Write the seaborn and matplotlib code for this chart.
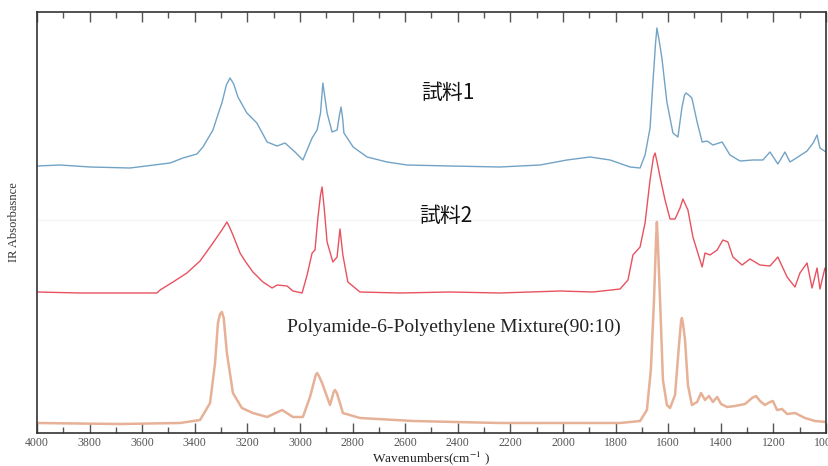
import numpy as np
import pandas as pd
import matplotlib
matplotlib.use("Agg")
import matplotlib.pyplot as plt
from matplotlib.ticker import MultipleLocator
import seaborn as sns

# sample 1 (blue)
wn_s1 = [4000, 3913, 3798, 3646, 3494, 3445, 3392, 3369, 3331, 3310, 3297, 3280, 3266, 3252,
         3236, 3202, 3164, 3125, 3087, 3057, 3019, 2989, 2954, 2935, 2922, 2913, 2905, 2897,
         2878, 2859, 2850, 2844, 2838, 2833, 2798, 2745, 2669, 2593, 2430, 2240, 2087, 1985,
         1897, 1821, 1745, 1707, 1688, 1669, 1658, 1648, 1643, 1636, 1624, 1605, 1582, 1563,
         1548, 1538, 1532, 1522, 1510, 1490, 1471, 1452, 1430, 1395, 1365, 1327, 1278, 1240,
         1213, 1183, 1156, 1137, 1107, 1072, 1049, 1034, 1023, 1000]
ab_s1 = [267, 268, 266, 265, 270, 275, 279, 286, 303, 320, 330, 348, 355, 349,
         336, 320, 310, 291, 287, 290, 281, 273, 295, 303, 320, 350, 335, 320,
         301, 303, 318, 326, 315, 300, 286, 276, 271, 268, 267, 266, 268, 273,
         276, 273, 266, 265, 278, 305, 351, 390, 405, 395, 375, 331, 300, 296,
         325, 338, 340, 338, 335, 311, 291, 292, 288, 291, 278, 272, 273, 273,
         281, 269, 281, 271, 276, 282, 290, 298, 285, 281]

# sample 2 (red)
wn_s2 = [4000, 3837, 3684, 3544, 3532, 3483, 3430, 3380, 3331, 3297, 3285, 3278, 3268, 3255,
         3228, 3209, 3179, 3141, 3106, 3087, 3049, 3027, 2992, 2973, 2954, 2943, 2932, 2922,
         2916, 2908, 2897, 2875, 2859, 2848, 2837, 2818, 2772, 2620, 2430, 2240, 2011, 1886,
         1783, 1753, 1734, 1707, 1688, 1669, 1656, 1650, 1643, 1631, 1612, 1593, 1574, 1555,
         1544, 1525, 1506, 1471, 1460, 1441, 1414, 1392, 1373, 1354, 1319, 1289, 1251, 1213,
         1183, 1148, 1118, 1099, 1072, 1053, 1034, 1023, 1004, 1000]
ab_s2 = [141, 140, 140, 140, 143, 151, 160, 172, 190, 203, 208, 211, 206, 198,
         180, 172, 161, 151, 145, 148, 147, 142, 140, 158, 180, 183, 215, 238,
         246, 225, 191, 171, 176, 204, 178, 151, 141, 140, 141, 140, 142, 141,
         144, 153, 178, 186, 210, 253, 276, 280, 272, 256, 233, 214, 214, 225,
         234, 223, 196, 166, 180, 178, 183, 193, 191, 176, 168, 174, 168, 167,
         176, 156, 146, 160, 170, 145, 165, 144, 165, 163]

# polyamide-6 / polyethylene reference (orange)
wn_ref = [4000, 3684, 3456, 3380, 3342, 3323, 3312, 3304, 3297, 3290, 3278, 3255, 3221, 3179,
          3125, 3068, 3027, 2989, 2962, 2940, 2935, 2928, 2916, 2886, 2872, 2867, 2860, 2848,
          2837, 2772, 2570, 2240, 1783, 1707, 1681, 1666, 1654, 1646, 1643, 1640, 1631, 1620,
          1605, 1593, 1574, 1559, 1551, 1548, 1544, 1536, 1525, 1510, 1490, 1475, 1460, 1445,
          1430, 1414, 1399, 1376, 1346, 1308, 1281, 1266, 1251, 1232, 1213, 1202, 1186, 1167,
          1148, 1118, 1080, 1042, 1000]
ab_ref = [10, 9, 10, 13, 30, 70, 110, 119, 121, 115, 80, 40, 25, 20,
          16, 23, 16, 16, 36, 58, 60, 57, 50, 28, 41, 43, 40, 30,
          20, 15, 12, 10, 10, 12, 23, 63, 133, 195, 211, 195, 133, 53,
          28, 25, 38, 88, 112, 115, 110, 93, 48, 28, 31, 40, 33, 37,
          31, 36, 29, 26, 27, 29, 35, 37, 32, 28, 31, 32, 23, 24,
          19, 20, 15, 12, 11]

labels = ["試料1", "試料2", "Polyamide-6-Polyethylene Mixture(90:10)"]
colors = ["#72a3c6", "#e8525f", "#e6b196"]

sns.set_style("ticks")
plt.rcParams['font.family'] = ['Noto Sans CJK JP', 'DejaVu Sans']
plt.rcParams['mathtext.fontset'] = 'stix'

fig = plt.figure(figsize=(8.29, 4.66), dpi=100)
ax = fig.add_axes([37 / 829, 1 - 433 / 466, 789 / 829, 421 / 466])

series = [(wn_s1, ab_s1), (wn_s2, ab_s2), (wn_ref, ab_ref)]
widths = [1.0, 1.0, 1.8]
for (wn, ab), c, w in zip(series, colors, widths):
    df = pd.DataFrame({"wn": wn, "ab": ab})
    sns.lineplot(data=df, x="wn", y="ab", ax=ax, color=c, lw=w, estimator=None, sort=False,
                 solid_joinstyle='round')

ax.axhline(213, color="#f3f3f3", lw=0.8, zorder=0)

ax.set_xlim(4000, 1000)
ax.set_ylim(0, 421)
ax.xaxis.set_major_locator(MultipleLocator(200))
ax.xaxis.set_minor_locator(MultipleLocator(100))
ax.set_yticks([])
ax.tick_params(axis='x', which='both', direction='in', top=True, colors='#555555',
               labelsize=8.5, pad=3)
ax.tick_params(axis='x', which='major', length=7, width=1)
ax.tick_params(axis='x', which='minor', length=4, width=1)
for lab in ax.get_xticklabels():
    lab.set_family('Liberation Serif')
for s in ax.spines.values():
    s.set_color('#333333')
    s.set_linewidth(1.2)

ax.set_xlabel('Wavenumbers(cm$^{-1}$ )', family='Liberation Serif', fontsize=9.5,
              color='#222222', labelpad=0)
ax.set_ylabel('IR Absorbasnce', family='Liberation Serif', fontsize=9,
              color='#333333', labelpad=12)

ax.text(2437, 340, labels[0], fontsize=15, ha='center', va='center', color='#111111')
ax.text(2445, 217, labels[1], fontsize=15, ha='center', va='center', color='#111111')
ax.text(2415, 106, labels[2], fontsize=14, ha='center', va='center', color='#222222',
        family='Liberation Serif')

fig.savefig('out.png', dpi=100)
